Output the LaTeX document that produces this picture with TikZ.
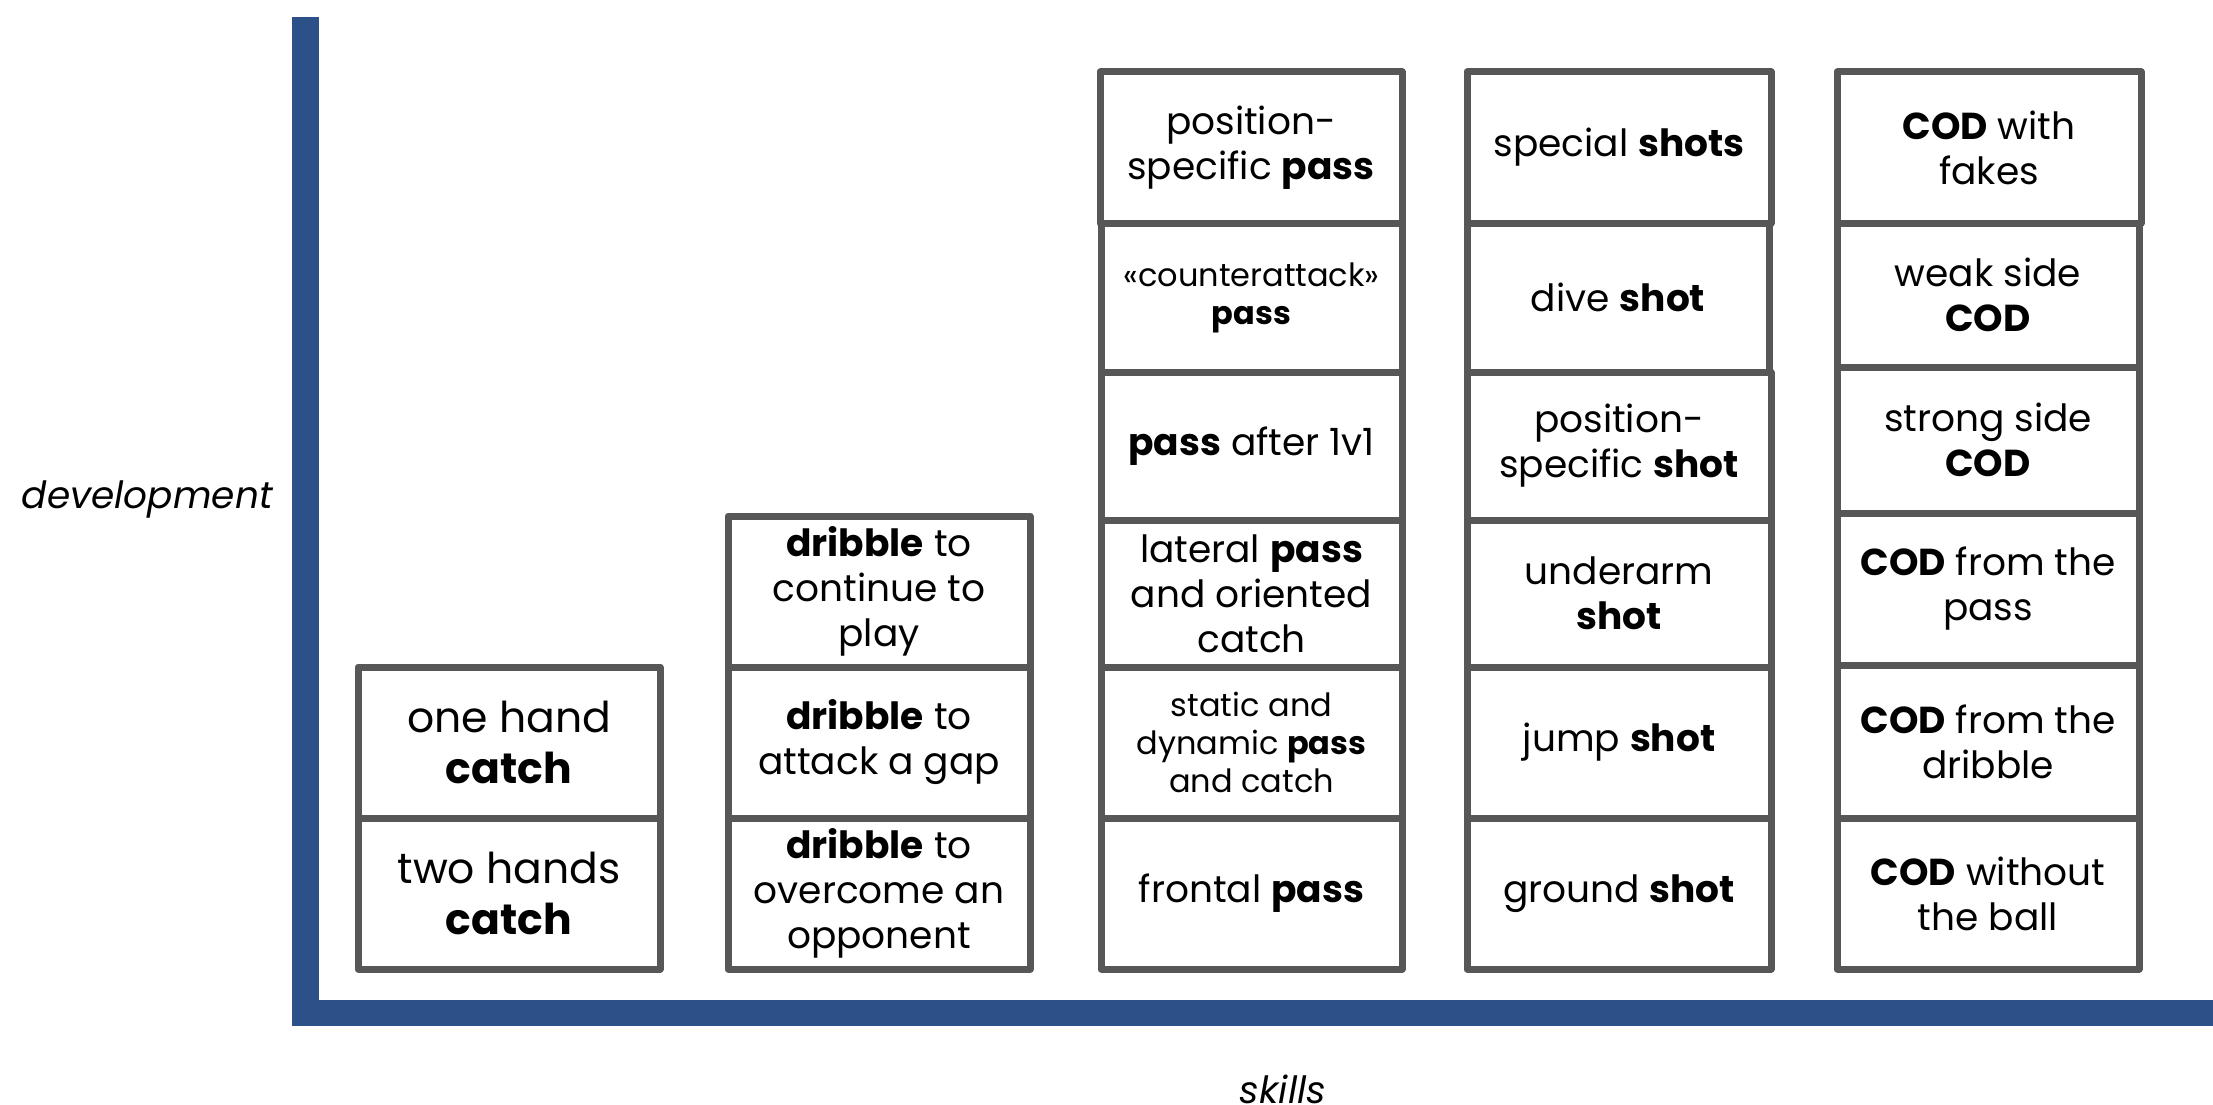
\documentclass[tikz,border=0pt]{standalone}
\usepackage{fontspec}
\setmainfont{Poppins}
\definecolor{axisblue}{HTML}{2C5189}
\definecolor{boxgray}{HTML}{575757}
\tikzset{
  cellbox/.style={draw=boxgray, line width=7pt, line join=round, fill=white,
    align=center, inner sep=0pt, text=black,
    font=\fontsize{37.5}{45}\selectfont},
  bigtext/.style={font=\fontsize{42.5}{51}\selectfont},
  smalltext/.style={font=\fontsize{32}{38}\selectfont},
  axislabel/.style={font=\itshape\fontsize{37.5}{44}\selectfont, inner sep=0pt}
}
\newcommand\cellbox[7][]{%
  \node[cellbox, #1, minimum width={(#5-#3)*1pt}, minimum height={(#6-#4)*1pt}]
    (#2) at ({(#3+#5)/2},{(#4+#6)/2}) {#7};}
\begin{document}
\begin{tikzpicture}[x=1pt, y=-1pt]
\useasboundingbox (0,0) rectangle (2213,1105);
% axes
\fill[axisblue] (292,17) rectangle (319,1026);
\fill[axisblue] (292,1000) rectangle (2213,1026);
\node[axislabel, anchor=east] (dev) at (273,499) {development};
\node[axislabel, anchor=base] (skills) at (1283,1103) {skills};
% column 1
\cellbox[bigtext]{c1a}{358}{818}{660}{969}{two hands\\\textbf{catch}}
\cellbox[bigtext]{c1b}{358}{667}{660}{818}{one hand\\\textbf{catch}}
% column 2
\cellbox{c2a}{728}{818}{1030}{969}{\textbf{dribble} to\\overcome an\\opponent}
\cellbox{c2b}{728}{667}{1030}{818}{\textbf{dribble} to\\attack a gap}
\cellbox{c2c}{728}{516}{1030}{667}{\textbf{dribble} to\\continue to\\play}
% column 3
\cellbox{c3a}{1101}{818}{1402}{969}{frontal \textbf{pass}}
\cellbox[smalltext]{c3b}{1101}{667}{1402}{818}{static and\\dynamic \textbf{pass}\\and catch}
\cellbox{c3c}{1101}{520}{1402}{667}{lateral \textbf{pass}\\and oriented\\catch}
\cellbox{c3d}{1101}{372}{1402}{520}{\textbf{pass} after 1v1}
\cellbox[smalltext]{c3e}{1101}{223}{1402}{372}{«counterattack»\\\textbf{pass}}
\cellbox{c3f}{1100}{72}{1402}{223}{position-\\specific \textbf{pass}}
% column 4
\cellbox{c4a}{1467}{818}{1771}{969}{ground \textbf{shot}}
\cellbox{c4b}{1467}{667}{1771}{818}{jump \textbf{shot}}
\cellbox{c4c}{1467}{520}{1771}{667}{underarm\\\textbf{shot}}
\cellbox{c4d}{1467}{372}{1771}{520}{position-\\specific \textbf{shot}}
\cellbox{c4e}{1467}{223}{1769}{372}{dive \textbf{shot}}
\cellbox{c4f}{1467}{72}{1771}{223}{special \textbf{shots}}
% column 5
\cellbox{c5a}{1837}{818}{2139}{969}{\textbf{COD} without\\the ball}
\cellbox{c5b}{1837}{665}{2139}{818}{\textbf{COD} from the\\dribble}
\cellbox{c5c}{1837}{513}{2139}{665}{\textbf{COD} from the\\pass}
\cellbox{c5d}{1837}{367}{2139}{513}{strong side\\\textbf{COD}}
\cellbox{c5e}{1837}{223}{2139}{367}{weak side\\\textbf{COD}}
\cellbox{c5f}{1837}{72}{2141}{223}{\textbf{COD} with\\fakes}
\end{tikzpicture}
\end{document}
